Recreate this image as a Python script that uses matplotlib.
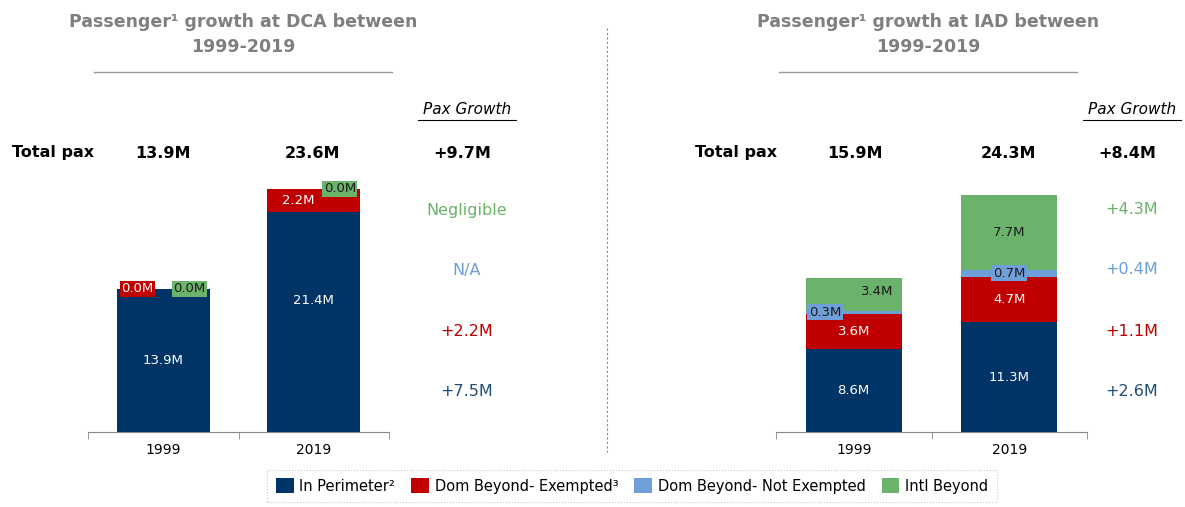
import matplotlib.pyplot as plt
from matplotlib.lines import Line2D
from matplotlib.patches import Rectangle

W, H = 1185, 507

years = ["1999", "2019"]
series = ["In Perimeter²", "Dom Beyond- Exempted³", "Dom Beyond- Not Exempted", "Intl Beyond"]
colors = ["#003366", "#C00000", "#6F9FD8", "#6BB26B"]
growth_colors = ["#1F4E79", "#C00000", "#6F9FD8", "#6BB26B"]

# DCA (left)
dca_in_perimeter = [13.9, 21.4]
dca_exempted = [0.0, 2.2]
dca_not_exempted = [0.0, 0.0]
dca_intl = [0.0, 0.0]
dca_totals = ["13.9M", "23.6M", "+9.7M"]
dca_growth = ["+7.5M", "+2.2M", "N/A", "Negligible"]  # bottom -> top

# IAD (right)
iad_in_perimeter = [8.6, 11.3]
iad_exempted = [3.6, 4.7]
iad_not_exempted = [0.3, 0.7]
iad_intl = [3.4, 7.7]
iad_totals = ["15.9M", "24.3M", "+8.4M"]
iad_growth = ["+2.6M", "+1.1M", "+0.4M", "+4.3M"]


def fx(px):
    return px / W


def fy(py):
    return 1 - py / H


fig = plt.figure(figsize=(W / 100, H / 100), dpi=100)
plt.rcParams['font.family'] = 'DejaVu Sans'


def draw_panel(ax, stacks, px_per_m, boxes, shifts):
    # stacks: list of 4 series, each [1999, 2019]
    ax.set_xlim(-0.5, 1.5)
    ax.set_ylim(0, 282 / px_per_m)
    bottoms = [0.0, 0.0]
    for s, vals in enumerate(stacks):
        ax.bar([0, 1], vals, width=0.62, bottom=bottoms, color=colors[s],
               edgecolor="none", zorder=2)
        for i, v in enumerate(vals):
            key = (s, i)
            y = bottoms[i] + v / 2 + shifts.get(key, (0, 0))[1]
            x = i + shifts.get(key, (0, 0))[0]
            txtcol = "white" if s < 2 else "#1a1a1a"
            if key in boxes:
                bx, ha = boxes[key]
                ax.text(i + bx, bottoms[i] + v / 2, f"{v:.1f}M", ha=ha, va="center",
                        fontsize=9.5, color=txtcol, zorder=4,
                        bbox=dict(boxstyle="square,pad=0.12", fc=colors[s], ec="none"))
            elif v >= 1:
                ax.text(x, y, f"{v:.1f}M", ha="center", va="center",
                        fontsize=9.5, color=txtcol, zorder=4)
        bottoms = [b + v for b, v in zip(bottoms, vals)]
    for sp in ["top", "left", "right"]:
        ax.spines[sp].set_visible(False)
    ax.spines["bottom"].set_color("#888888")
    ax.set_yticks([])
    ax.set_xticks([0, 1])
    ax.set_xticklabels(years, fontsize=10)
    ax.tick_params(axis="x", length=0, pad=8)
    ax.set_xticks([-0.5, 0.5, 1.5], minor=True)
    ax.tick_params(axis="x", which="minor", length=5, color="#888888", direction="out")
    ax.patch.set_alpha(0)


ax1 = fig.add_axes([fx(88), fy(432), (389 - 88) / W, 282 / H])
draw_panel(ax1, [dca_in_perimeter, dca_exempted, dca_not_exempted, dca_intl], 10.3,
           boxes={(1, 0): (-0.28, "left"), (3, 0): (0.28, "right"), (3, 1): (0.28, "right")},
           shifts={(0, 1): (0, 2.1), (1, 1): (-0.1, 0)})

ax2 = fig.add_axes([fx(776), fy(432), (1087 - 776) / W, 282 / H])
draw_panel(ax2, [iad_in_perimeter, iad_exempted, iad_not_exempted, iad_intl], 9.7,
           boxes={(2, 0): (-0.29, "left"), (2, 1): (0, "center")},
           shifts={(3, 0): (0.15, 0.3)})

title_col = "#7f7f7f"
panels = [
    ("DCA", 243, 467, 12, 163, 313, dca_totals, dca_growth),
    ("IAD", 928, 1132, 695, 855, 1009, iad_totals, iad_growth),
]
for code, tcx, gcx, tpx, c1, c2, totals, growth in panels:
    fig.text(fx(tcx), fy(22), f"Passenger¹ growth at {code} between", ha="center", va="center",
             fontsize=12.5, fontweight="bold", color=title_col)
    fig.text(fx(tcx), fy(47), "1999-2019", ha="center", va="center",
             fontsize=12.5, fontweight="bold", color=title_col)
    fig.add_artist(Line2D([fx(tcx - 149), fx(tcx + 149)], [fy(72), fy(72)],
                          color="#999999", lw=1))
    fig.text(fx(gcx), fy(110), "Pax Growth", ha="center", va="center",
             fontsize=11, style="italic", color="black")
    fig.add_artist(Line2D([fx(gcx - 49), fx(gcx + 49)], [fy(120), fy(120)],
                          color="black", lw=0.8))
    fig.text(fx(tpx), fy(153), "Total pax", ha="left", va="center",
             fontsize=11.5, fontweight="bold")
    for cx, t in zip([c1, c2, gcx - 5], totals):
        fig.text(fx(cx), fy(153), t, ha="center", va="center",
                 fontsize=11.5, fontweight="bold")
    for t, col, py in zip(growth, growth_colors, [392, 332, 270, 210]):
        fig.text(fx(gcx), fy(py), t, ha="center", va="center", fontsize=11.5, color=col)

# divider
fig.add_artist(Line2D([fx(607), fx(607)], [fy(28), fy(452)], color="#888888",
                      lw=0.8, linestyle=(0, (2, 2))))

handles = [Rectangle((0, 0), 1, 1, fc=c, ec="none") for c in colors]
leg = fig.legend(handles, series, loc="center", bbox_to_anchor=(fx(632), fy(486)),
                 ncol=4, fontsize=10.5, frameon=True, fancybox=False,
                 handlelength=1.2, handleheight=1.2, handletextpad=0.4,
                 columnspacing=1.1, borderpad=0.6)
leg.get_frame().set_edgecolor("#bbbbbb")
leg.get_frame().set_linestyle(":")
leg.get_frame().set_linewidth(0.8)

fig.savefig("out.png", dpi=100)
